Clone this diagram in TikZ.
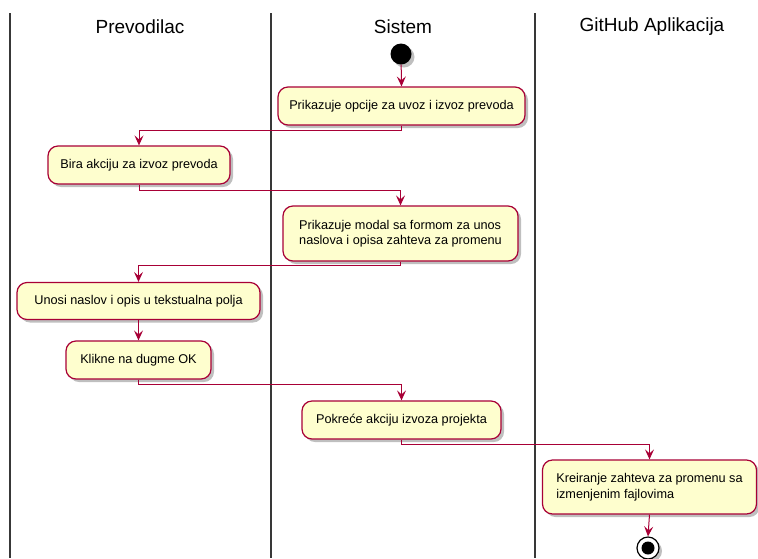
\documentclass[tikz,border=0pt]{standalone}
\usepackage{fontspec}
\setmainfont{Liberation Sans}
\usetikzlibrary{arrows.meta,shadows}
\definecolor{pumlred}{HTML}{A80036}
\definecolor{pumlfill}{HTML}{FEFECE}
\definecolor{lanecol}{HTML}{383838}
\tikzset{
  actbox/.style={rectangle, rounded corners=10pt, draw=pumlred, line width=1.2pt, fill=pumlfill,
    inner sep=0pt, font=\fontsize{12.7}{15.5}\selectfont,
    drop shadow={shadow xshift=3pt, shadow yshift=-3pt, fill=black, opacity=0.25}},
  lanetitle/.style={font=\fontsize{19}{21}\selectfont, inner sep=0pt},
  lane/.style={draw=lanecol, line width=2pt},
  arr/.style={draw=pumlred, line width=1pt, -{Stealth[length=10pt,width=9pt,inset=4pt]}},
}
\begin{document}
\begin{tikzpicture}[x=1pt,y=-1pt]
\useasboundingbox (0,0) rectangle (758,558);
% lanes
\draw[lane] (10,13) -- (10,558);
\draw[lane] (271,13) -- (271,558);
\draw[lane] (535,13) -- (535,558);
\node[lanetitle] (t1) at (140,27) {Prevodilac};
\node[lanetitle] (t2) at (403,27) {Sistem};
\node[lanetitle] (t3) at (652,27) {GitHub Aplikacija};
% start
\node[circle, fill=black, minimum size=21pt, inner sep=0pt,
  drop shadow={shadow xshift=3pt, shadow yshift=-3pt, fill=black, opacity=0.25}] (start) at (401,54) {};
% boxes
\node[actbox, minimum width=247pt, minimum height=38pt] (b1) at (401.5,106) {Prikazuje opcije za uvoz i izvoz prevoda};
\node[actbox, minimum width=182pt, minimum height=38pt] (b2) at (139,165) {Bira akciju za izvoz prevoda};
\node[actbox, minimum width=235pt, minimum height=55pt, align=left] (b3) at (400.5,233.5) {Prikazuje modal sa formom za unos\\naslova i opisa zahteva za promenu};
\node[actbox, minimum width=243pt, minimum height=37pt] (b4) at (138.5,301) {Unosi naslov i opis u tekstualna polja};
\node[actbox, minimum width=145pt, minimum height=38pt] (b5) at (138.5,360) {Klikne na dugme OK};
\node[actbox, minimum width=199pt, minimum height=38pt] (b6) at (401.5,420) {Pokreće akciju izvoza projekta};
\node[actbox, minimum width=214pt, minimum height=54pt, align=left] (b7) at (649.5,487) {Kreiranje zahteva za promenu sa\\izmenjenim fajlovima};
% end
\node[circle, draw=black, line width=1.2pt, fill=white, minimum size=22pt, inner sep=0pt,
  drop shadow={shadow xshift=3pt, shadow yshift=-3pt, fill=black, opacity=0.25}] (end) at (648,548) {};
\fill[black] (end.center) circle (6.5pt);
% connectors
\draw[arr] (start) -- (b1.north);
\draw[arr] (b1.south) -- ++(0,5) -| (b2.north);
\draw[arr] (b2.south) -- ++(0,6) -| (b3.north);
\draw[arr] (b3.south) -- ++(0,4) -| (b4.north);
\draw[arr] (b4) -- (b5);
\draw[arr] (b5.south) -- ++(0,5) -| (b6.north);
\draw[arr] (b6.south) -- ++(0,5) -| (b7.north);
\draw[arr] (b7.south) -- (end.north);
\end{tikzpicture}
\end{document}
